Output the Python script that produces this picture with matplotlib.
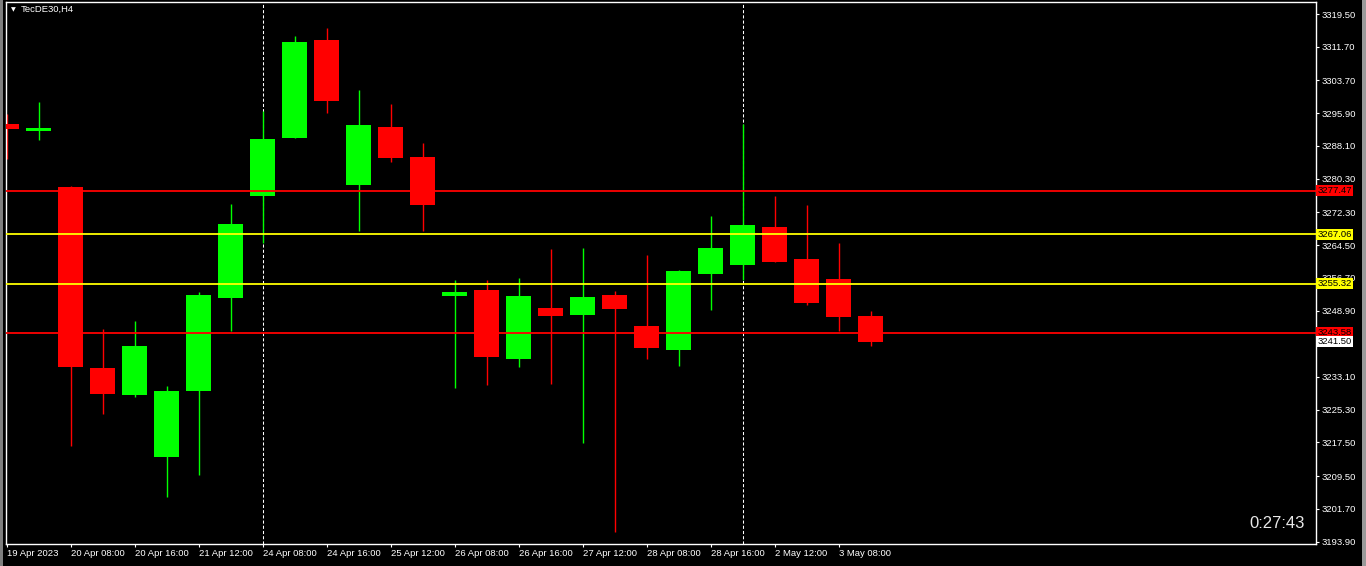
import matplotlib.pyplot as plt
import matplotlib.transforms as mtransforms
from matplotlib.patches import Rectangle
import numpy as np

plt.rcParams['font.family'] = ['Liberation Sans', 'DejaVu Sans']

symbol = 'TecDE30,H4'
timer = '0:27:43'

# H4 candles, oldest first
opens = [3293.31, 3291.71, 3278.31, 3235.21, 3228.86, 3214.02, 3229.81, 3251.95,
         3276.24, 3290.05, 3313.31, 3278.86, 3292.60, 3285.45, 3252.43, 3253.79,
         3237.43, 3249.50, 3247.90, 3252.60, 3245.21, 3239.57, 3257.67, 3259.81,
         3268.79, 3261.17, 3256.40, 3247.60]
highs = [3295.69, 3298.55, 3278.50, 3244.50, 3246.40, 3230.93, 3253.31, 3274.26,
         3296.48, 3314.26, 3316.17, 3301.40, 3298.07, 3288.79, 3256.17, 3256.17,
         3256.64, 3263.55, 3263.79, 3253.62, 3262.12, 3258.55, 3271.40, 3293.31,
         3276.17, 3274.02, 3264.98, 3248.79]
lows = [3285.05, 3289.57, 3216.71, 3224.33, 3228.38, 3204.57, 3209.81, 3244.10,
        3264.90, 3290.00, 3296.00, 3267.90, 3284.33, 3267.90, 3230.52, 3231.24,
        3235.52, 3231.48, 3217.43, 3196.24, 3237.43, 3235.76, 3249.10, 3256.24,
        3260.52, 3250.29, 3244.02, 3240.52]
closes = [3292.19, 3292.29, 3235.52, 3229.10, 3240.45, 3229.74, 3252.60, 3269.50,
          3289.74, 3312.83, 3298.86, 3293.07, 3285.29, 3274.02, 3253.31, 3237.90,
          3252.36, 3247.67, 3252.12, 3249.26, 3240.05, 3258.31, 3263.79, 3269.26,
          3260.52, 3250.69, 3247.36, 3241.50]

# x axis labels every second bar
date_labels = ['19 Apr 2023', '20 Apr 08:00', '20 Apr 16:00', '21 Apr 12:00',
               '24 Apr 08:00', '24 Apr 16:00', '25 Apr 12:00', '26 Apr 08:00',
               '26 Apr 16:00', '27 Apr 12:00', '28 Apr 08:00', '28 Apr 16:00',
               '2 May 12:00', '3 May 08:00']
separators = [8, 23]

price_ticks = [3193.90, 3201.70, 3209.50, 3217.50, 3225.30, 3233.10, 3248.90,
               3256.70, 3264.50, 3272.30, 3280.30, 3288.10, 3295.90, 3303.70,
               3311.70, 3319.50]

red_levels = [3277.47, 3243.58]
yellow_levels = [3267.06, 3255.32]

fig = plt.figure(figsize=(13.66, 5.66), dpi=100, facecolor='black')
W, H = 1366, 566
ax = fig.add_axes([5.5 / W, 1 - 544 / H, (1315.7 - 5.5) / W, (544 - 2) / H])
ax.set_facecolor('black')

# window frame bits
fig.patches.append(Rectangle((0, 0), 3 / W, 1, transform=fig.transFigure,
                             fc='#7f7f7f', ec='none'))
fig.patches.append(Rectangle((1 - 4 / W, 0), 4 / W, 1, transform=fig.transFigure,
                             fc='#9a9a9a', ec='none'))

x = np.arange(len(opens))
o = np.array(opens)
c = np.array(closes)
up = c >= o
colors = np.where(up, '#00ff00', '#ff0000')

ax.vlines(x, lows, highs, colors=colors, linewidth=1.0, zorder=2)
ax.bar(x, np.abs(c - o), bottom=np.minimum(o, c), width=0.78,
       color=colors, edgecolor='none', zorder=3)

for s in separators:
    ax.axvline(s, color='white', linewidth=0.75, linestyle=(0, (3, 2)), zorder=1)

for lv in red_levels:
    ax.axhline(lv, color='#ff0000', linewidth=1.3, zorder=4)
for lv in yellow_levels:
    ax.axhline(lv, color='#ffff00', linewidth=1.3, zorder=4)

ax.set_xlim(-0.04, 40.9)
ax.set_ylim(3193.31, 3322.36)

ax.set_xticks(x[::2][:len(date_labels)])
ax.set_xticklabels(date_labels, ha='left')
ax.set_yticks(price_ticks)
ax.set_yticklabels([f'{p:.2f}' for p in price_ticks])
ax.yaxis.tick_right()
ax.tick_params(axis='both', colors='white', labelcolor='white', labelsize=6.8,
               length=2.2, width=0.8, direction='out')
ax.tick_params(axis='x', pad=1.5)
ax.tick_params(axis='y', pad=1.8)
for sp in ax.spines.values():
    sp.set_color('white')
    sp.set_linewidth(1.0)

# price tags on the right scale
trans = mtransforms.blended_transform_factory(ax.transAxes, ax.transData)
tags = [(v, '#ff0000') for v in red_levels] + [(v, '#ffff00') for v in yellow_levels]
tags.append((closes[-1], 'white'))
for val, col in tags:
    ax.text(1.0012, val, f'{val:.2f}', transform=trans, fontsize=6.8,
            color='black', va='center', ha='left', clip_on=False, zorder=6,
            bbox=dict(boxstyle='square,pad=0.12', fc=col, ec='none'))

# symbol caption and bar timer
ax.text(5 / 1310, 1 - 7.5 / 542, '\u25bc', transform=ax.transAxes, fontsize=4.5,
        color='white', va='center', ha='left', family='DejaVu Sans')
ax.text(15.5 / 1310, 1 - 7.5 / 542, symbol, transform=ax.transAxes, fontsize=6.8,
        color='white', va='center', ha='left')
ax.text(0.9918, 0.037, timer, transform=ax.transAxes, fontsize=12,
        color='#e8e8e8', va='center', ha='right')

fig.savefig('out.png', dpi=100, facecolor='black')
